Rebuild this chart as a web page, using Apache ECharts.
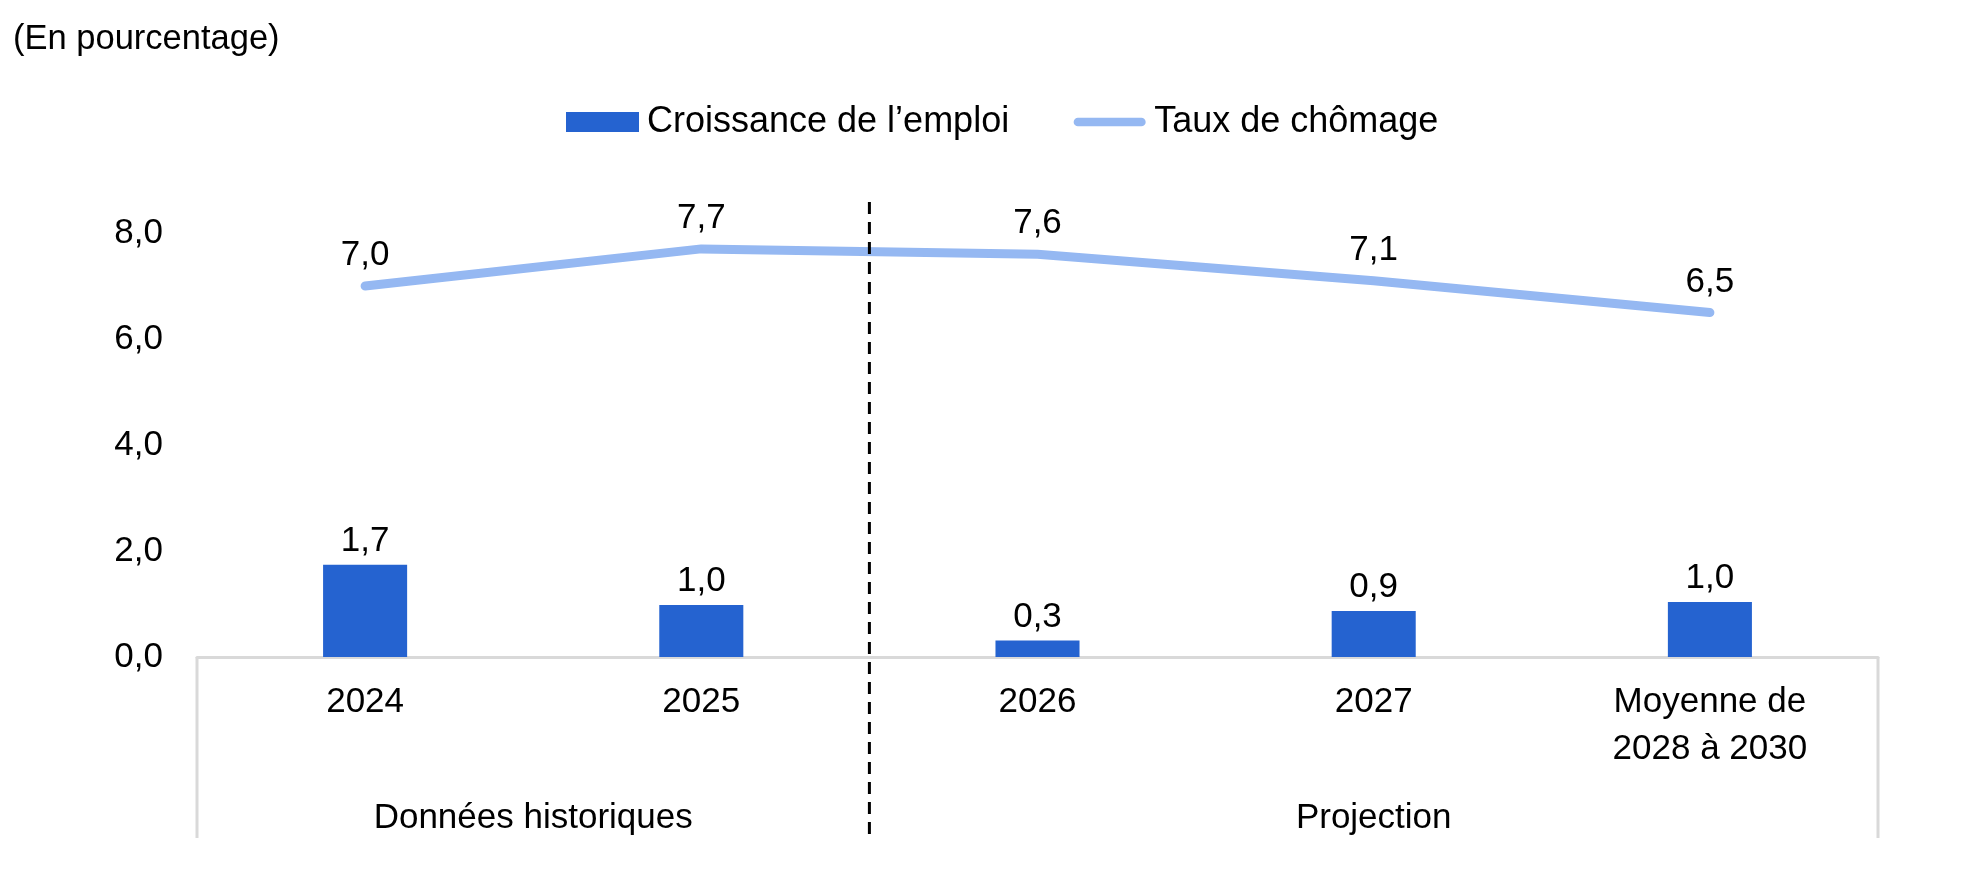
<!DOCTYPE html>
<html>
<head>
<meta charset="utf-8">
<script src="https://cdn.jsdelivr.net/npm/echarts@6/dist/echarts.min.js"></script>
<style>
html,body{margin:0;padding:0;background:#fff;}
#chart{width:1967px;height:875px;}
</style>
</head>
<body>
<div id="chart"></div>
<script>
const categories = ['2024', '2025', '2026', '2027', 'Moyenne de\n2028 à 2030'];
const emploi = [1.74, 0.98, 0.31, 0.87, 1.04];
const chomage = [7.0, 7.7, 7.6, 7.1, 6.5];
const groupLabels = ['Données historiques', 'Projection'];
const groupSplits = [0, 2, 5]; // category boundaries of the groups
const yTicks = { min: 0, max: 8, interval: 2 };

const FONT = '"Liberation Sans", Arial, sans-serif';
const FS = 35;
const fmt = v => (typeof v === 'object' ? v.value : v).toFixed(1).replace('.', ',');
const LINE_COLOR = '#95b8f2';
const BAR_COLOR = '#2563d0';

const chart = echarts.init(document.getElementById('chart'));
chart.setOption({
  animation: false,
  textStyle: { fontFamily: FONT, color: '#000' },
  title: {
    text: '(En pourcentage)',
    left: 8, top: 17,
    textStyle: { fontFamily: FONT, fontSize: 34.5, fontWeight: 'normal', color: '#000' }
  },
  legend: {
    top: 99, left: 561,
    itemWidth: 73, itemHeight: 20, itemGap: 64,
    textStyle: { fontFamily: FONT, fontSize: 36, color: '#000', padding: [0, 0, 0, 3] },
    data: [
      { name: 'Croissance de l’emploi', icon: 'rect', itemStyle: { color: BAR_COLOR } },
      { name: 'Taux de chômage',
        icon: 'path://M0,0 M76,20 M5,5.5 L71,5.5 A4.5,4.5 0 0 1 71,14.5 L5,14.5 A4.5,4.5 0 0 1 5,5.5 Z',
        itemStyle: { color: LINE_COLOR, opacity: 1 } }
    ]
  },
  grid: { left: 197, right: 89, top: 233, bottom: 218, containLabel: false },
  xAxis: {
    type: 'category',
    data: categories,
    axisLine: { lineStyle: { color: '#d9d9d9', width: 3 } },
    axisTick: { show: false },
    axisLabel: { fontFamily: FONT, fontSize: FS, color: '#000', lineHeight: 47, margin: 22, interval: 0 }
  },
  yAxis: {
    type: 'value',
    min: yTicks.min, max: yTicks.max, interval: yTicks.interval,
    splitLine: { show: false },
    axisLine: { show: false },
    axisTick: { show: false },
    axisLabel: { fontFamily: FONT, fontSize: FS, color: '#000', margin: 34, formatter: v => v.toFixed(1).replace('.', ',') }
  },
  series: [
    {
      name: 'Croissance de l’emploi',
      type: 'bar',
      data: emploi,
      barWidth: '25%',
      itemStyle: { color: BAR_COLOR },
      label: { show: true, position: 'top', distance: 6, fontFamily: FONT, fontSize: FS, color: '#000', formatter: p => fmt(p.value) }
    },
    {
      name: 'Taux de chômage',
      type: 'line',
      data: chomage,
      symbol: 'circle',
      symbolSize: 2,
      showSymbol: true,
      lineStyle: { color: LINE_COLOR, width: 9, cap: 'round' },
      itemStyle: { color: LINE_COLOR },
      label: { show: true, position: 'top', distance: 12, fontFamily: FONT, fontSize: FS, color: '#000', formatter: p => fmt(p.value) }
    }
  ]
});

// decorations: bracket lines, dashed separator and group labels, positioned from the axis scale
function drawDecor() {
  const c0 = chart.convertToPixel({ xAxisIndex: 0 }, 0);
  const c1 = chart.convertToPixel({ xAxisIndex: 0 }, 1);
  const band = c1 - c0;
  const edge = i => c0 - band / 2 + i * band;
  const y0 = chart.convertToPixel({ yAxisIndex: 0 }, 0);
  const bottomY = 838;
  const els = [];
  els.push({ type: 'line', shape: { x1: edge(groupSplits[0]), y1: y0, x2: edge(groupSplits[0]), y2: bottomY }, style: { stroke: '#d9d9d9', lineWidth: 3 }, silent: true });
  els.push({ type: 'line', shape: { x1: edge(groupSplits[2]), y1: y0, x2: edge(groupSplits[2]), y2: bottomY }, style: { stroke: '#d9d9d9', lineWidth: 3 }, silent: true });
  els.push({ type: 'line', shape: { x1: edge(groupSplits[1]), y1: 202, x2: edge(groupSplits[1]), y2: bottomY }, style: { stroke: '#000', lineWidth: 3, lineDash: [12, 8] }, silent: true, z: 10 });
  for (let g = 0; g < groupLabels.length; g++) {
    const cx = (edge(groupSplits[g]) + edge(groupSplits[g + 1])) / 2;
    els.push({ type: 'text', x: cx, y: 818, style: { text: groupLabels[g], font: FS + 'px ' + FONT, fill: '#000', align: 'center', verticalAlign: 'middle' }, silent: true });
  }
  chart.setOption({ graphic: els });
}
drawDecor();
</script>
</body>
</html>
